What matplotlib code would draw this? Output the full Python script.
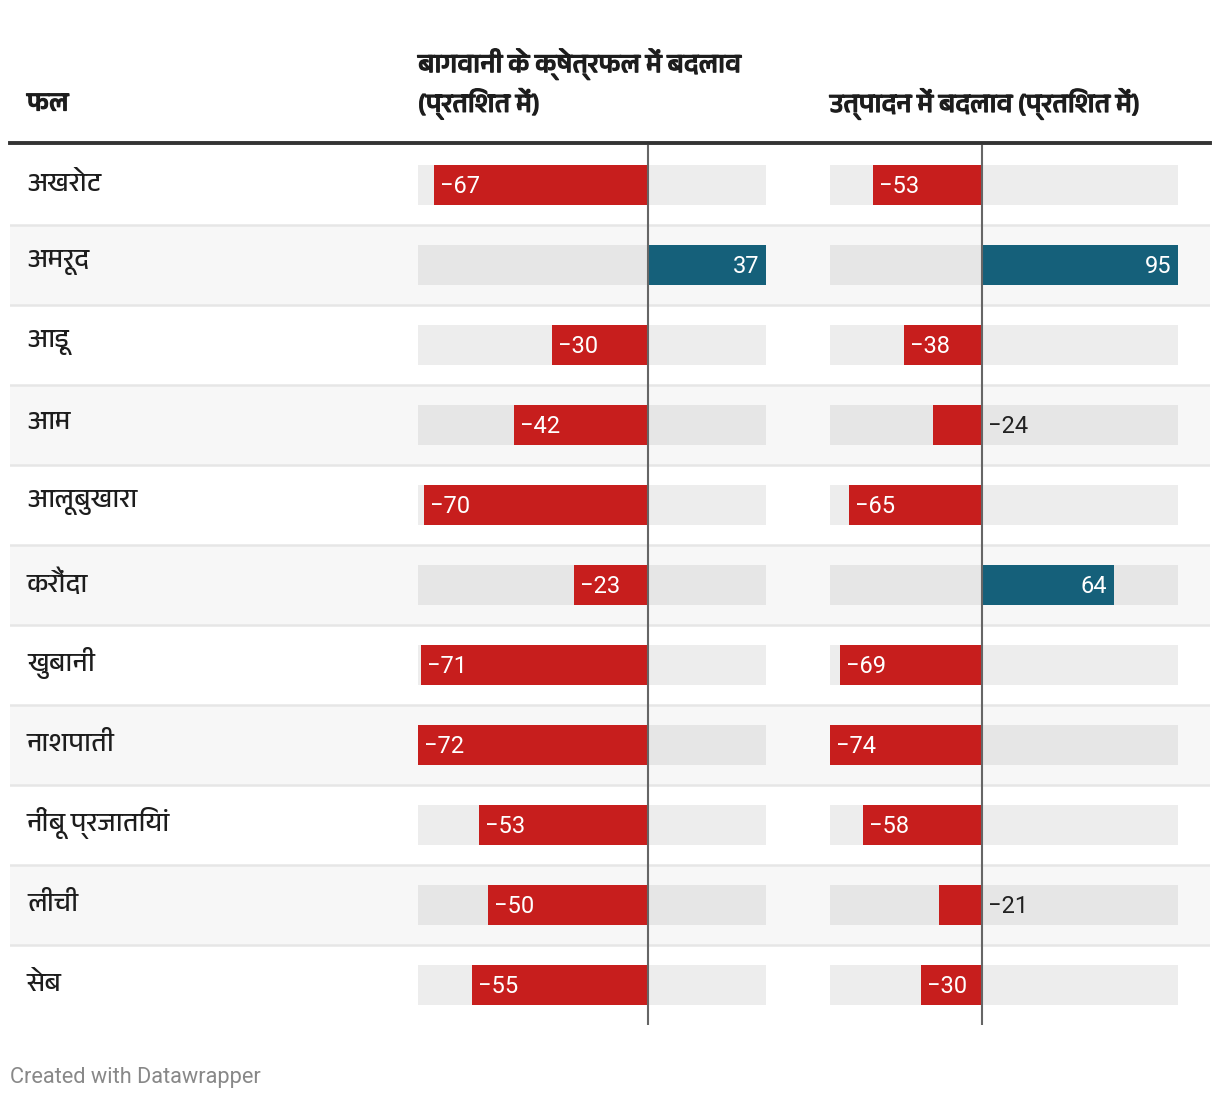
import matplotlib
matplotlib.use('Agg')
import matplotlib.pyplot as plt
import matplotlib.patheffects as pe
from matplotlib import font_manager
from matplotlib.ft2font import FT2Font

# --- data ---
fruits = ['अखरोट', 'अमरूद', 'आड़ू', 'आम', 'आलूबुखारा', 'करौंदा', 'खुबानी',
          'नाशपाती', 'नींबू प्रजातियां', 'लीची', 'सेब']
area_change = [-67, 37, -30, -42, -70, -23, -71, -72, -53, -50, -55]
prod_change = [-53, 95, -38, -24, -65, 64, -69, -74, -58, -21, -30]

col_first = 'फल'
col_area = 'बागवानी के क्षेत्रफल में बदलाव\n(प्रतिशत में)'
col_prod = 'उत्पादन में बदलाव (प्रतिशत में)'
footer = 'Created with Datawrapper'

RED = '#c71e1d'
BLUE = '#15607a'


def find_font(ch, prefer=('Devanagari',)):
    found = []
    seen = set()
    for f in font_manager.fontManager.ttflist:
        if f.fname in seen:
            continue
        seen.add(f.fname)
        try:
            if ord(ch) in FT2Font(f.fname).get_charmap():
                found.append(f.name)
        except Exception:
            pass
    for p in prefer:
        for n in found:
            if p in n:
                return n
    return found[0] if found else None


deva = find_font('क')
hindi_family = [deva, 'DejaVu Sans'] if deva else ['DejaVu Sans']
num_family = ['Roboto', 'DejaVu Sans']

W, H = 1220, 1100
fig = plt.figure(figsize=(W / 100, H / 100), dpi=100)
fig.patch.set_facecolor('white')


def frac(x0, y0, x1, y1):
    return [x0 / W, 1 - y1 / H, (x1 - x0) / W, (y1 - y0) / H]


n = len(fruits)
top, bottom = 145, 1025

# background axes for row stripes and labels
bg = fig.add_axes(frac(10, top, 1210, bottom))
bg.set_xlim(10, 1210)
bg.set_ylim(n - 0.5, -0.5)
bg.axis('off')
for i in range(n):
    if i % 2 == 1:
        bg.axhspan(i - 0.5, i + 0.5, color='#f7f7f7', lw=0)
for i in range(1, n):
    bg.axhline(i - 0.5, color='#e6e6e6', lw=1.8)
for i, name in enumerate(fruits):
    bg.text(27, i - 0.03, name, family=hindi_family, fontsize=19.2,
            color='#1d1d1d', va='center', ha='left')


def bar_column(rect, values):
    ax = fig.add_axes(frac(*rect))
    lo, hi = min(values), max(values)
    ax.set_xlim(lo, hi)
    ax.set_ylim(n - 0.5, -0.5)
    ax.axis('off')
    ax.patch.set_alpha(0)
    track = ['#ededed' if i % 2 == 0 else '#e6e6e6' for i in range(n)]
    ax.barh(range(n), [hi - lo] * n, left=lo, height=0.5, color=track, lw=0)
    colors = [RED if v < 0 else BLUE for v in values]
    ax.barh(range(n), values, height=0.5, color=colors, lw=0)
    ax.axvline(0, color='#666666', lw=1.5, zorder=5)
    px_per_unit = (rect[2] - rect[0]) / (hi - lo)
    for i, v in enumerate(values):
        lab = str(v).replace('-', '−')
        wpx = abs(v) * px_per_unit
        if v < 0:
            if wpx > 55:
                ax.annotate(lab, (v, i), xytext=(4.3, -1.4), textcoords='offset points',
                            color='white', fontsize=17, family=num_family,
                            va='center', ha='left')
            else:
                ax.annotate(lab, (0, i), xytext=(4.3, -1.4), textcoords='offset points',
                            color='#222222', fontsize=17, family=num_family,
                            va='center', ha='left')
        else:
            ax.annotate(lab, (v, i), xytext=(-5, -1.4), textcoords='offset points',
                        color='white', fontsize=17, family=num_family,
                        va='center', ha='right')
    return ax


bar_column((418, top, 766, bottom), area_change)
bar_column((830, top, 1178, bottom), prod_change)

# header (faux bold via a thin stroke)
bold = [pe.withStroke(linewidth=0.9, foreground='#1d1d1d')]
fig.text(27 / W, 1 - 104 / H, col_first, family=hindi_family, fontsize=19,
         fontweight='bold', color='#1d1d1d', va='center', ha='left',
         path_effects=bold)
fig.text(418 / W, 1 - 84 / H, col_area, family=hindi_family, fontsize=19,
         fontweight='bold', color='#1d1d1d', va='center', ha='left',
         linespacing=1.32, path_effects=bold)
fig.text(830 / W, 1 - 104 / H, col_prod, family=hindi_family, fontsize=19,
         fontweight='bold', color='#1d1d1d', va='center', ha='left',
         path_effects=bold)
fig.add_artist(plt.Line2D([10 / W, 1210 / W], [1 - 143 / H] * 2,
                          color='#333333', lw=2.8))

fig.text(10 / W, 1 - 1077 / H, footer, family=num_family, fontsize=15.7,
         color='#888888', va='center', ha='left')

fig.savefig('out.png', dpi=100)
